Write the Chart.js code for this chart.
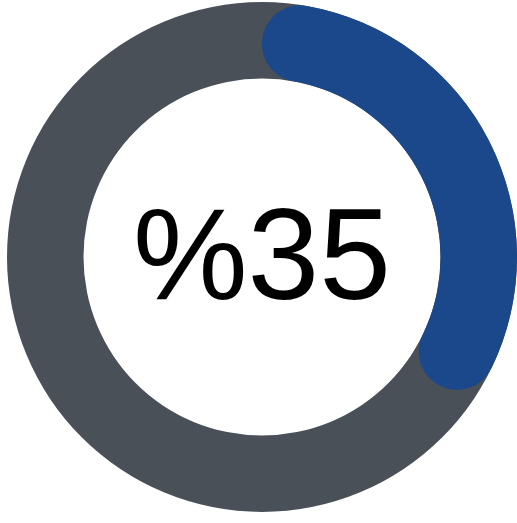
<!DOCTYPE html>
<html>
<head>
<meta charset="utf-8">
<script src="https://cdn.jsdelivr.net/npm/chart.js@4/dist/chart.umd.min.js"></script>
<style>
  html, body { margin: 0; padding: 0; background: #fff; }
  body { width: 517px; height: 523px; position: relative; overflow: hidden; }
  .wrap { position: absolute; left: 6.5px; top: 1.5px; width: 510px; height: 510px; }
</style>
</head>
<body>
<div class="wrap"><canvas id="ring"></canvas></div>
<script>
// ─── Data ──────────────────────────────────────────
const labels = ['Done', 'Remaining'];
const values = [35, 65];
const centerLabel = '%35';

const BLUE = '#1b488b';
const GREY = '#4a5058';

// full grey track behind the progress arc
const trackPlugin = {
  id: 'track',
  beforeDatasetsDraw(chart) {
    const arc = chart.getDatasetMeta(0).data[0];
    if (!arc) return;
    const { x, y, innerRadius, outerRadius } = arc.getProps(['x', 'y', 'innerRadius', 'outerRadius'], true);
    const ctx = chart.ctx;
    ctx.save();
    ctx.beginPath();
    ctx.arc(x, y, outerRadius, 0, Math.PI * 2);
    ctx.arc(x, y, innerRadius, 0, Math.PI * 2, true);
    ctx.closePath();
    ctx.fillStyle = GREY;
    ctx.fill();
    ctx.restore();
  }
};

// percentage in the middle
const centerText = {
  id: 'centerText',
  afterDatasetsDraw(chart) {
    const arc = chart.getDatasetMeta(0).data[0];
    if (!arc) return;
    const ctx = chart.ctx;
    ctx.save();
    ctx.font = '129px "Liberation Sans", Arial, sans-serif';
    ctx.fillStyle = '#000';
    ctx.textAlign = 'center';
    ctx.textBaseline = 'alphabetic';
    ctx.fillText(centerLabel, arc.x, arc.y + 42);
    ctx.restore();
  }
};

new Chart(document.getElementById('ring'), {
  type: 'doughnut',
  data: {
    labels: labels,
    datasets: [{
      data: values,
      backgroundColor: [BLUE, 'rgba(0,0,0,0)'],
      borderWidth: 0,
      borderRadius: [60, 0]
    }]
  },
  options: {
    responsive: true,
    maintainAspectRatio: false,
    animation: false,
    cutout: '70%',
    layout: { padding: 0 },
    plugins: { legend: { display: false }, tooltip: { enabled: false } }
  },
  plugins: [trackPlugin, centerText]
});
</script>
</body>
</html>
